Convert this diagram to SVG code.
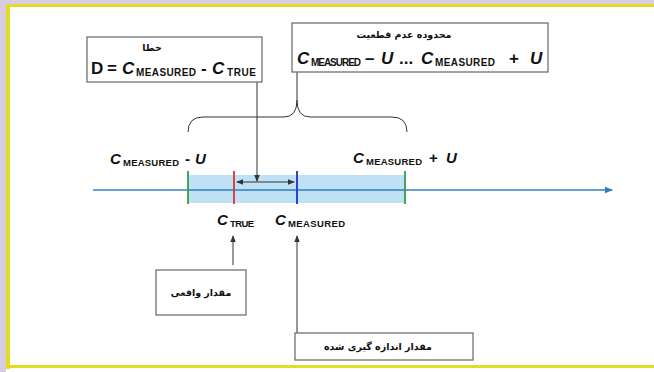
<svg xmlns="http://www.w3.org/2000/svg" width="654" height="372" viewBox="0 0 654 372">
<style>
.box{fill:#fff;stroke:#707070;stroke-width:1.3}
.fa{font-family:"DejaVu Sans","Noto Sans",sans-serif;font-weight:bold;font-size:9.5px;fill:#111;text-anchor:middle}
.f{font-family:"Liberation Sans",Arial,sans-serif;font-weight:bold;fill:#111}
.it{font-style:italic}
.con{stroke:#333;stroke-width:1;fill:none}
</style>
<defs>
<marker id="ah" viewBox="0 0 8 8" refX="7" refY="4" markerWidth="7" markerHeight="7" markerUnits="userSpaceOnUse" orient="auto-start-reverse">
<path d="M0,0.8 L8,4 L0,7.2 z" fill="#333"/>
</marker>
<marker id="bh" viewBox="0 0 8 8" refX="7" refY="4" markerWidth="8" markerHeight="8" markerUnits="userSpaceOnUse" orient="auto">
<path d="M0,0.8 L8,4 L0,7.2 z" fill="#2f7fbf"/>
</marker>
</defs>
<rect width="654" height="372" fill="#fff"/>
<rect x="0" y="0" width="654" height="4" fill="#d8cce0"/>
<rect x="0" y="0" width="6" height="372" fill="#d8cce0"/>
<rect x="6" y="4" width="648" height="3" fill="#e2dc22"/>
<rect x="6" y="4" width="4" height="365" fill="#e2dc22"/>
<rect x="6" y="365" width="648" height="3" fill="#e2dc22"/>

<g id="axis">
<rect x="188" y="175" width="217" height="28" fill="#bfe1f6"/>
<line x1="93" y1="190" x2="612" y2="190" stroke="#2f7fbf" stroke-width="1.6" marker-end="url(#bh)"/>
<line x1="188" y1="171" x2="188" y2="204" stroke="#3a9a4a" stroke-width="1.8"/>
<line x1="405" y1="171" x2="405" y2="204" stroke="#3a9a4a" stroke-width="1.8"/>
<line x1="234" y1="171" x2="234" y2="204" stroke="#e03030" stroke-width="1.8"/>
<line x1="297" y1="171" x2="297" y2="204" stroke="#2232c0" stroke-width="1.8"/>
<text class="f" font-size="15"><tspan class="it" x="110" y="164">C</tspan><tspan font-size="9.5" x="123" y="166" textLength="56">MEASURED</tspan><tspan x="185" y="164">-</tspan><tspan class="it" x="195" y="164">U</tspan></text>
<text class="f" font-size="15"><tspan class="it" x="353" y="163">C</tspan><tspan font-size="9.5" x="366" y="165" textLength="56">MEASURED</tspan><tspan x="429" y="163">+</tspan><tspan class="it" x="446" y="163">U</tspan></text>
<text class="f" font-size="15"><tspan class="it" x="217" y="225">C</tspan><tspan font-size="9.5" x="230" y="227" textLength="24">TRUE</tspan></text>
<text class="f" font-size="15"><tspan class="it" x="275" y="225">C</tspan><tspan font-size="9.5" x="288" y="227" textLength="57">MEASURED</tspan></text>
</g>

<g id="connectors">
<path class="con" d="M188,132 Q188,117 203,117 L284,117 Q297,117 297,100 L297,72 M297,100 Q297,117 310,117 L392,117 Q407,117 407,132" stroke="#555" stroke-width="1.1"/>
<line class="con" x1="257" y1="82" x2="257" y2="181" marker-end="url(#ah)"/>
<line class="con" x1="237" y1="182" x2="294" y2="182" marker-start="url(#ah)" marker-end="url(#ah)"/>
<line class="con" x1="233" y1="265" x2="233" y2="236" marker-end="url(#ah)"/>
<line class="con" x1="297" y1="333" x2="297" y2="236" marker-end="url(#ah)"/>
</g>

<g id="error-box">
<rect class="box" x="87" y="37" width="175" height="45"/>
<text class="fa" x="152" y="51">خطا</text>
<text class="f" font-size="17"><tspan x="91" y="74">D</tspan><tspan x="107" y="74">=</tspan><tspan class="it" x="122" y="74">C</tspan><tspan font-size="10" x="136" y="76" textLength="60">MEASURED</tspan><tspan x="201" y="74">-</tspan><tspan class="it" x="212" y="74">C</tspan><tspan font-size="10" x="227" y="76" textLength="29">TRUE</tspan></text>
</g>

<g id="uncertainty-box">
<rect class="box" x="292" y="23" width="256" height="49"/>
<text class="fa" x="404" y="38">محدوده عدم قطعیت</text>
<text class="f" font-size="17"><tspan class="it" x="297" y="64">C</tspan><tspan font-size="10" x="311" y="66" textLength="50">MEASURED</tspan><tspan x="365" y="64">–</tspan><tspan class="it" x="381" y="64">U</tspan><tspan x="399" y="64">...</tspan><tspan class="it" x="421" y="64">C</tspan><tspan font-size="10" x="435" y="66" textLength="60">MEASURED</tspan><tspan x="509" y="64">+</tspan><tspan class="it" x="530" y="64">U</tspan></text>
</g>

<g id="true-value-box">
<rect class="box" x="156" y="270" width="90" height="45"/>
<text class="fa" x="201" y="296">مقدار واقعی</text>
</g>

<g id="measured-value-box">
<rect class="box" x="295" y="333" width="178" height="27"/>
<text class="fa" x="378" y="350">مقدار اندازه گیری شده</text>
</g>
</svg>
